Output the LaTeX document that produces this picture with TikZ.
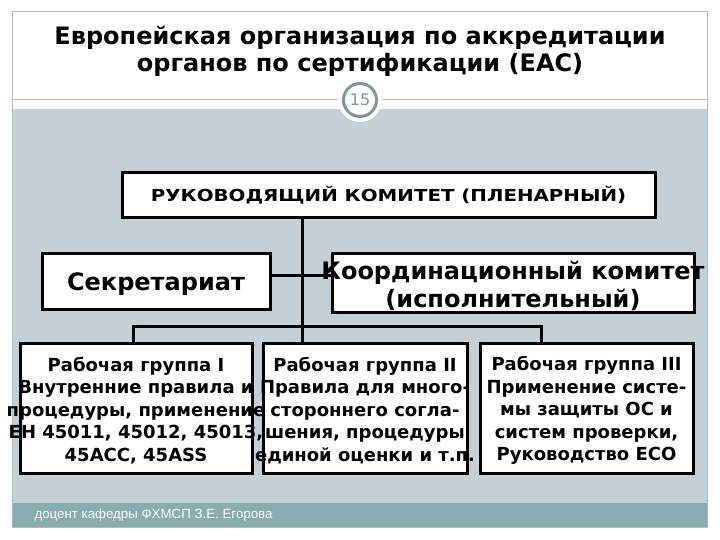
\documentclass[tikz,border=0pt]{standalone}
\usepackage{fontspec}
\setmainfont{DejaVu Sans}
\newfontfamily\widefont[FakeStretch=1.2]{DejaVu Sans}
\newfontfamily\footfont{Liberation Sans}
\usetikzlibrary{arrows.meta}

\definecolor{bandgray}{RGB}{197,208,214}
\definecolor{footteal}{RGB}{137,172,172}
\definecolor{ringteal}{RGB}{125,152,150}
\definecolor{framegray}{RGB}{178,188,188}

\begin{document}
\begin{tikzpicture}[
      x=1pt, y=-1pt,
      % Define styles for the elements
      box/.style={
          rectangle,
          draw,
          line width=3pt,
          fill=white,
          inner sep=0pt
        },
      boxtext/.style={
          align=center,
          inner sep=0pt,
          font=\bfseries\fontsize{18}{22.5}\selectfont
        },
      bigtext/.style={
          boxtext,
          font=\bfseries\fontsize{24}{28}\selectfont
        },
      link/.style={
          line width=3pt
        }
    ]

    \useasboundingbox (0,0) rectangle (720,540);
    \fill[white] (0,0) rectangle (720,540);

    % Slide background
    \fill[bandgray] (12,109) rectangle (707,503);
    \fill[footteal] (12,503) rectangle (707,527);
    \draw[framegray, line width=1pt] (12,12) rectangle (707,527);
    \draw[framegray, line width=1pt] (12,100) -- (707,100);

    % Title and page number
    \node[align=center, font=\bfseries\fontsize{24}{27}\selectfont] (title) at (360,51) {
      Европейская организация по аккредитации\\
      органов по сертификации (EAC)
    };
    \fill[white] (360,100) circle (22pt);
    \node[circle, draw=ringteal, line width=3pt, fill=white, minimum size=33pt,
          inner sep=0pt, text=ringteal, font=\fontsize{16}{16}\selectfont] (pagenum) at (360,100) {15};

    % Place the boxes
    \node[box, minimum width=533pt, minimum height=45pt] (ruk) at (388.5,195.5) {};
    \node[box, minimum width=228pt, minimum height=56pt] (sekr) at (156,281) {};
    \node[box, minimum width=362pt, minimum height=59pt] (koord) at (513,282.5) {};
    \node[box, minimum width=232pt, minimum height=130pt] (wg1) at (136,408) {};
    \node[box, minimum width=204pt, minimum height=130pt] (wg2) at (365,408) {};
    \node[box, minimum width=213pt, minimum height=130pt] (wg3) at (586.5,408) {};

    % Draw the connecting lines
    \coordinate (busL) at (133,326);
    \coordinate (trunk) at (302,326);
    \coordinate (busR) at (541,326);
    \draw[link] (ruk.south -| trunk) -- (trunk |- wg2.north);
    \draw[link] (busL |- wg1.north) -- (busL) -- (busR) -- (busR |- wg3.north);
    \draw[link] ([yshift=6pt]sekr.east) -- ([yshift=6pt]sekr.east -| koord.west);

    % Texts of the boxes
    \node[boxtext, font=\widefont\bfseries\fontsize{16.5}{22}\selectfont] (ruktext) at (ruk) {РУКОВОДЯЩИЙ КОМИТЕТ (ПЛЕНАРНЫЙ)};
    \node[bigtext] (sekrtext) at ([yshift=-3pt]sekr.center) {Секретариат};
    \node[bigtext] (koordtext) at ([yshift=-3pt]koord.center) {Координационный комитет\\(исполнительный)};
    \node[boxtext] (wg1text) at ([yshift=-2.5pt]wg1.center) {
      Рабочая группа I\\
      Внутренние правила и\\
      процедуры, применение\\
      ЕН 45011, 45012, 45013,\\
      45ACC, 45ASS
    };
    \node[boxtext] (wg2text) at ([yshift=-2.5pt]wg2.center) {
      Рабочая группа II\\
      Правила для много-\\
      стороннего согла-\\
      шения, процедуры\\
      единой оценки и т.п.
    };
    \node[boxtext] (wg3text) at ([yshift=-2.5pt]wg3.center) {
      Рабочая группа III\\
      Применение систе-\\
      мы защиты ОС и\\
      систем проверки,\\
      Руководство ЕСО
    };

    % Footer
    \node[anchor=west, text=white, font=\footfont\fontsize{13.3}{13.3}\selectfont] (footer) at (31,515) {доцент кафедры ФХМСП З.Е. Егорова};

  \end{tikzpicture}
\end{document}
